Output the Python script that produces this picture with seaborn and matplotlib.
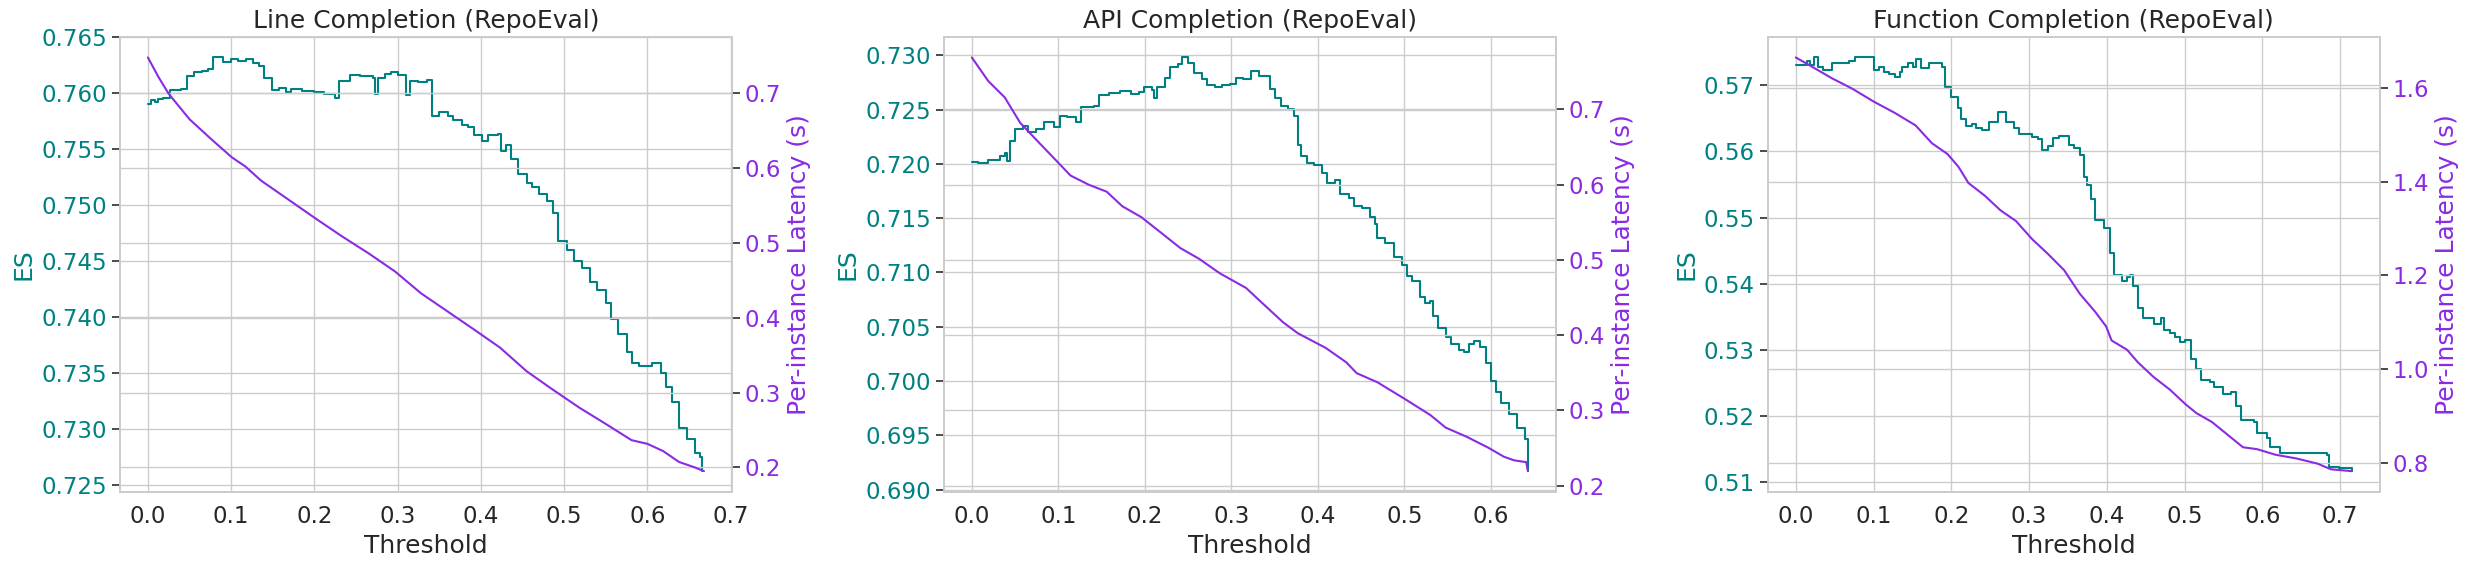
import numpy as np
import pandas as pd
import matplotlib
matplotlib.use("Agg")
import matplotlib.pyplot as plt
import seaborn as sns

# ---------------- data ----------------
titles = ["Line Completion (RepoEval)", "API Completion (RepoEval)", "Function Completion (RepoEval)"]

line_es_t = [0.000, 0.004, 0.008, 0.012, 0.018, 0.026, 0.040, 0.047, 0.055, 0.065, 0.072, 0.078,
             0.090, 0.100, 0.108, 0.118, 0.126, 0.133, 0.140, 0.149, 0.158, 0.166, 0.172, 0.185,
             0.200, 0.212, 0.225, 0.230, 0.243, 0.255, 0.270, 0.273, 0.276, 0.285, 0.292, 0.300,
             0.310, 0.315, 0.325, 0.335, 0.341, 0.350, 0.360, 0.366, 0.377, 0.385, 0.392, 0.401,
             0.408, 0.420, 0.424, 0.430, 0.436, 0.445, 0.455, 0.462, 0.470, 0.480, 0.487, 0.493,
             0.503, 0.512, 0.521, 0.531, 0.540, 0.550, 0.556, 0.565, 0.575, 0.581, 0.590, 0.606,
             0.616, 0.622, 0.629, 0.638, 0.647, 0.657, 0.663, 0.666]
line_es = [0.7590, 0.7594, 0.7592, 0.7595, 0.7596, 0.7603, 0.7604, 0.7615, 0.7619, 0.7620, 0.7622, 0.7632,
           0.7628, 0.7631, 0.7629, 0.7631, 0.7627, 0.7624, 0.7614, 0.7603, 0.7605, 0.7601, 0.7604, 0.7602,
           0.7601, 0.7599, 0.7596, 0.7611, 0.7616, 0.7615, 0.7614, 0.7599, 0.7614, 0.7617, 0.7619, 0.7616,
           0.7598, 0.7611, 0.7610, 0.7612, 0.7580, 0.7583, 0.7580, 0.7576, 0.7572, 0.7570, 0.7563, 0.7557,
           0.7563, 0.7564, 0.7548, 0.7554, 0.7541, 0.7528, 0.7520, 0.7516, 0.7510, 0.7504, 0.7493, 0.7468,
           0.7460, 0.7450, 0.7444, 0.7431, 0.7424, 0.7412, 0.7398, 0.7385, 0.7369, 0.7359, 0.7356, 0.7359,
           0.7350, 0.7337, 0.7324, 0.7301, 0.7291, 0.7278, 0.7275, 0.7262]
line_lat_t = [0.000, 0.013, 0.025, 0.050, 0.076, 0.101, 0.117, 0.136, 0.171, 0.202, 0.234, 0.265,
              0.297, 0.328, 0.360, 0.392, 0.423, 0.455, 0.486, 0.518, 0.550, 0.581, 0.600, 0.619,
              0.638, 0.657, 0.668]
line_lat = [0.7475, 0.7208, 0.6990, 0.6650, 0.6385, 0.6140, 0.6020, 0.5830, 0.5560, 0.5320, 0.5080, 0.4860,
            0.4616, 0.4326, 0.4083, 0.3840, 0.3600, 0.3284, 0.3042, 0.2800, 0.2581, 0.2364, 0.2315, 0.2218,
            0.2073, 0.2000, 0.1950]

api_es_t = [0.000, 0.007, 0.019, 0.032, 0.038, 0.041, 0.044, 0.050, 0.059, 0.065, 0.074, 0.083,
            0.092, 0.095, 0.1015, 0.110, 0.120, 0.126, 0.141, 0.147, 0.159, 0.171, 0.184, 0.193,
            0.199, 0.208, 0.211, 0.214, 0.223, 0.229, 0.238, 0.243, 0.250, 0.257, 0.266, 0.272,
            0.281, 0.289, 0.299, 0.305, 0.314, 0.323, 0.332, 0.342, 0.345, 0.351, 0.357, 0.366,
            0.372, 0.377, 0.381, 0.387, 0.396, 0.405, 0.411, 0.420, 0.426, 0.436, 0.442, 0.451,
            0.460, 0.466, 0.469, 0.478, 0.488, 0.497, 0.503, 0.509, 0.518, 0.524, 0.530, 0.533,
            0.539, 0.548, 0.554, 0.563, 0.569, 0.575, 0.581, 0.588, 0.594, 0.600, 0.606, 0.612,
            0.621, 0.630, 0.640, 0.643]
api_es = [0.7202, 0.7201, 0.7204, 0.7207, 0.7210, 0.7203, 0.7221, 0.7232, 0.7235, 0.7229, 0.7232, 0.7239,
          0.7239, 0.7234, 0.7244, 0.7243, 0.7239, 0.7252, 0.7253, 0.7263, 0.7265, 0.7267, 0.7264, 0.7266,
          0.7271, 0.7268, 0.7261, 0.7271, 0.7279, 0.7289, 0.7292, 0.7298, 0.7293, 0.7284, 0.7278, 0.7273,
          0.7271, 0.7273, 0.7274, 0.7279, 0.7278, 0.7286, 0.7281, 0.7281, 0.7269, 0.7261, 0.7253, 0.7251,
          0.7244, 0.7217, 0.7207, 0.7201, 0.7199, 0.7192, 0.7182, 0.7185, 0.7172, 0.7169, 0.7161, 0.7159,
          0.7151, 0.7145, 0.7132, 0.7127, 0.7114, 0.7107, 0.7097, 0.7092, 0.7077, 0.7072, 0.7074, 0.7060,
          0.7049, 0.7041, 0.7034, 0.7029, 0.7027, 0.7034, 0.7037, 0.7031, 0.7017, 0.7000, 0.6990, 0.6980,
          0.6970, 0.6957, 0.6947, 0.6917]
api_lat_t = [0.000, 0.019, 0.038, 0.056, 0.080, 0.098, 0.114, 0.135, 0.156, 0.174, 0.196, 0.220,
             0.241, 0.263, 0.287, 0.317, 0.335, 0.360, 0.377, 0.409, 0.433, 0.445, 0.469, 0.500,
             0.530, 0.548, 0.572, 0.597, 0.615, 0.627, 0.641, 0.643]
api_lat = [0.7690, 0.7376, 0.7160, 0.6820, 0.6530, 0.6315, 0.6122, 0.6000, 0.5906, 0.5713, 0.5568, 0.5350,
           0.5158, 0.5013, 0.4820, 0.4628, 0.4435, 0.4170, 0.4025, 0.3832, 0.3639, 0.3495, 0.3374, 0.3157,
           0.2940, 0.2771, 0.2651, 0.2506, 0.2386, 0.2337, 0.2313, 0.2193]

func_es_t = [0.000, 0.0116, 0.015, 0.018, 0.024, 0.029, 0.035, 0.042, 0.046, 0.069, 0.076, 0.093,
             0.100, 0.107, 0.114, 0.120, 0.127, 0.134, 0.137, 0.144, 0.151, 0.154, 0.161, 0.171,
             0.178, 0.188, 0.192, 0.199, 0.205, 0.209, 0.212, 0.219, 0.226, 0.232, 0.239, 0.249,
             0.253, 0.260, 0.266, 0.270, 0.280, 0.287, 0.297, 0.304, 0.311, 0.317, 0.324, 0.331,
             0.338, 0.348, 0.351, 0.358, 0.365, 0.370, 0.375, 0.379, 0.385, 0.396, 0.402, 0.404,
             0.409, 0.419, 0.426, 0.430, 0.433, 0.440, 0.447, 0.460, 0.470, 0.474, 0.481, 0.487,
             0.494, 0.501, 0.508, 0.515, 0.521, 0.532, 0.538, 0.549, 0.559, 0.566, 0.573, 0.589,
             0.593, 0.606, 0.610, 0.623, 0.650, 0.683, 0.685, 0.698, 0.715]
func_es = [0.5731, 0.5731, 0.5737, 0.5731, 0.5742, 0.5728, 0.5723, 0.5723, 0.5734, 0.5737, 0.5742, 0.5742,
           0.5723, 0.5728, 0.5720, 0.5717, 0.5712, 0.5720, 0.5728, 0.5734, 0.5728, 0.5739, 0.5726, 0.5734,
           0.5734, 0.5728, 0.5698, 0.5682, 0.5682, 0.5665, 0.5649, 0.5638, 0.5641, 0.5635, 0.5633, 0.5644,
           0.5645, 0.5660, 0.5660, 0.5644, 0.5636, 0.5627, 0.5627, 0.5622, 0.5619, 0.5602, 0.5608, 0.5621,
           0.5624, 0.5624, 0.5610, 0.5605, 0.5594, 0.5561, 0.5550, 0.5528, 0.5496, 0.5485, 0.5485, 0.5446,
           0.5413, 0.5405, 0.5411, 0.5413, 0.5397, 0.5364, 0.5348, 0.5339, 0.5348, 0.5331, 0.5325, 0.5320,
           0.5312, 0.5315, 0.5287, 0.5271, 0.5255, 0.5252, 0.5244, 0.5233, 0.5236, 0.5216, 0.5194, 0.5191,
           0.5175, 0.5167, 0.5153, 0.5144, 0.5144, 0.5141, 0.5123, 0.5122, 0.5117]
func_lat_t = [0.000, 0.018, 0.046, 0.073, 0.100, 0.127, 0.154, 0.175, 0.195, 0.209, 0.222, 0.243,
              0.263, 0.283, 0.304, 0.324, 0.345, 0.365, 0.385, 0.399, 0.406, 0.426, 0.440, 0.460,
              0.481, 0.501, 0.515, 0.535, 0.555, 0.575, 0.593, 0.617, 0.644, 0.671, 0.688, 0.715]
func_lat = [1.665, 1.648, 1.621, 1.598, 1.571, 1.547, 1.520, 1.482, 1.459, 1.432, 1.397, 1.370,
            1.339, 1.316, 1.277, 1.246, 1.211, 1.161, 1.122, 1.091, 1.061, 1.041, 1.014, 0.983,
            0.956, 0.925, 0.906, 0.887, 0.860, 0.833, 0.829, 0.817, 0.809, 0.798, 0.786, 0.782]

panels = [
    (line_es_t, line_es, line_lat_t, line_lat),
    (api_es_t, api_es, api_lat_t, api_lat),
    (func_es_t, func_es, func_lat_t, func_lat),
]

es_color = "#008080"
lat_color = "#8A2BE2"

# ---------------- plot ----------------
sns.set_theme(style="whitegrid", font_scale=1.5)
plt.rcParams['font.family'] = ['DejaVu Sans']

fig, axes = plt.subplots(1, 3, figsize=(24.66, 5.66), dpi=100)
fig.subplots_adjust(left=0.0487, right=0.965, bottom=0.131, top=0.935, wspace=0.347)

for ax, title, (et, ev, lt, lv) in zip(axes, titles, panels):
    df_es = pd.DataFrame({"Threshold": et, "ES": ev})
    df_lat = pd.DataFrame({"Threshold": lt, "Latency": lv})
    sns.lineplot(data=df_es, x="Threshold", y="ES", ax=ax, color=es_color,
                 drawstyle="steps-post", linewidth=1.5)
    ax.set_ylabel("ES", color=es_color)
    ax.set_xlabel("Threshold")
    ax.set_title(title)
    ax.tick_params(axis="y", labelcolor=es_color, left=True, length=6, color="#333333")

    ax2 = ax.twinx()
    sns.lineplot(data=df_lat, x="Threshold", y="Latency", ax=ax2, color=lat_color, linewidth=1.5)
    ax2.set_ylabel("Per-instance Latency (s)", color=lat_color)
    ax2.tick_params(axis="y", labelcolor=lat_color, right=True, length=6, color="#333333")

fig.savefig("out.png", dpi=100)
